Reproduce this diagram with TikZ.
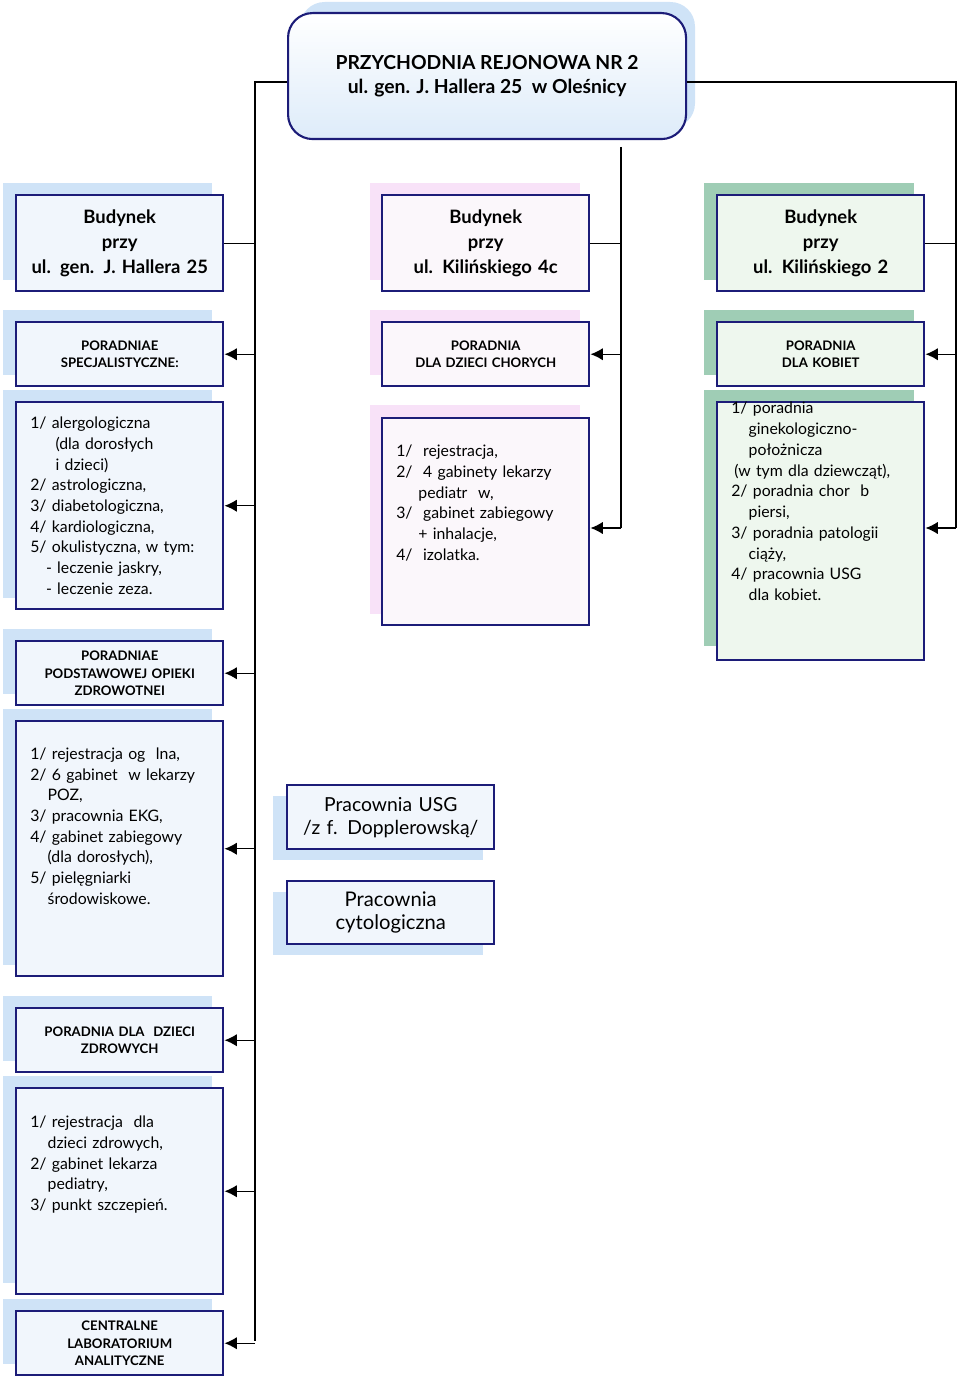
\documentclass[tikz,border=0pt]{standalone}
\usepackage{fontspec}
\setmainfont{Lato}
\usetikzlibrary{arrows.meta}
\definecolor{navy}{HTML}{1C1C78}
\definecolor{shblue}{HTML}{CFE3F7}
\definecolor{shpink}{HTML}{F8E2F8}
\definecolor{shgreen}{HTML}{9FCDB5}
\definecolor{fblue}{HTML}{F1F6FC}
\definecolor{fpink}{HTML}{FBF7FB}
\definecolor{fgreen}{HTML}{EEF7EE}
\tikzset{
  box/.style={draw=navy, line width=1.4pt, anchor=north west, inner sep=0pt, text width=207*0.02cm, align=center},
  lst/.style={box, align=left, font=\fontsize{9}{11.8}\selectfont},
  bud/.style={box, font=\bfseries\fontsize{10.5}{14}\selectfont},
  head/.style={box, font=\bfseries\fontsize{7.5}{10}\selectfont},
  line/.style={line width=0.8pt},
  arr/.style={line width=0.8pt, -{Latex[length=7pt,width=7pt]}},
}
\newcommand{\ind}{\hspace*{1.1em}}
\begin{document}
\begin{tikzpicture}[x=0.02cm,y=-0.02cm]
\useasboundingbox (0,0) rectangle (960,1382);
% shadows
\fill[shblue, rounded corners=14pt] (300,2) rectangle (695,128);
\foreach \ya/\yb in {183/280, 310/375, 390/598, 629/694, 709/965, 996/1061, 1076/1283, 1299/1364}
  \fill[shblue] (3,\ya) rectangle (212,\yb);
\foreach \ya/\yb in {183/280, 310/375, 405/614}
  \fill[shpink] (370,\ya) rectangle (580,\yb);
\foreach \ya/\yb in {183/280, 310/375, 390/646}
  \fill[shgreen] (704,\ya) rectangle (914,\yb);
\fill[shblue] (273,796) rectangle (483,860);
\fill[shblue] (273,892) rectangle (483,955);
% top
\node[draw=navy, line width=1.2pt, rounded corners=14pt, top color=white, bottom color=shblue!70, anchor=north west,
  minimum width=398*0.02cm, minimum height=126*0.02cm, align=center, font=\bfseries\fontsize{11}{14}\selectfont]
  (top) at (287,12) {PRZYCHODNIA REJONOWA NR 2\\ul. gen. J. Hallera 25~~w Oleśnicy};
% left column
\node[bud, fill=fblue, minimum height=96*0.02cm] (budA) at (15,194) {Budynek\\przy\\ul. gen. J. Hallera 25};
\node[head, fill=fblue, minimum height=64*0.02cm] (spec) at (15,321) {PORADNIAE\\SPECJALISTYCZNE:};
\node[lst, fill=fblue, minimum height=207*0.02cm] (specL) at (15,401) {\hspace*{8pt}\parbox{105pt}{1/ alergologiczna\\\hspace*{1.6em}(dla dorosłych\\\hspace*{1.6em}i dzieci)\\2/ astrologiczna,\\3/ diabetologiczna,\\4/ kardiologiczna,\\5/ okulistyczna, w tym:\\\hspace*{1em}- leczenie jaskry,\\\hspace*{1em}- leczenie zeza.}};
\node[head, fill=fblue, minimum height=64*0.02cm] (poz) at (15,640) {PORADNIAE\\PODSTAWOWEJ OPIEKI\\ZDROWOTNEI};
\node[lst, fill=fblue, minimum height=255*0.02cm] (pozL) at (15,720) {\hspace*{8pt}\parbox{105pt}{1/ rejestracja og~~lna,\\2/ 6 gabinet~~w lekarzy\\\ind POZ,\\3/ pracownia EKG,\\4/ gabinet zabiegowy\\\ind(dla dorosłych),\\5/ pielęgniarki\\\ind środowiskowe.\\[14pt]}};
\node[head, fill=fblue, minimum height=64*0.02cm] (zdr) at (15,1007) {PORADNIA DLA~~DZIECI\\ZDROWYCH};
\node[lst, fill=fblue, minimum height=206*0.02cm] (zdrL) at (15,1087) {\hspace*{8pt}\parbox{105pt}{1/ rejestracja~~dla\\\ind dzieci zdrowych,\\2/ gabinet lekarza\\\ind pediatry,\\3/ punkt szczepień.\\[20pt]}};
\node[head, fill=fblue, minimum height=64*0.02cm] (lab) at (15,1310) {CENTRALNE\\LABORATORIUM\\ANALITYCZNE};
% middle column
\node[bud, fill=fpink, minimum height=96*0.02cm] (budB) at (381,194) {Budynek\\przy\\ul. Kilińskiego 4c};
\node[head, fill=fpink, minimum height=64*0.02cm] (chor) at (381,321) {PORADNIA\\DLA DZIECI CHORYCH};
\node[lst, fill=fpink, minimum height=207*0.02cm] (chorL) at (381,417) {\hspace*{8pt}\parbox{105pt}{1/~~rejestracja,\\2/~~4 gabinety lekarzy\\\hspace*{1.4em}pediatr~~w,\\3/~~gabinet zabiegowy\\\hspace*{1.4em}+ inhalacje,\\4/~~izolatka.\\[10pt]}};
% right column
\node[bud, fill=fgreen, minimum height=96*0.02cm] (budC) at (716,194) {Budynek\\przy\\ul. Kilińskiego 2};
\node[head, fill=fgreen, minimum height=64*0.02cm] (kob) at (716,321) {PORADNIA\\DLA KOBIET};
\node[lst, fill=fgreen, minimum height=255*0.02cm] (kobL) at (716,401) {\hspace*{8pt}\parbox{105pt}{1/ poradnia\\\ind ginekologiczno-\\\ind położnicza\\\hspace*{0.2em}(w tym dla dziewcząt),\\2/ poradnia chor~~b\\\ind piersi,\\3/ poradnia patologii\\\ind ciąży,\\4/ pracownia USG\\\ind dla kobiet.\\[22pt]}};
% separate rooms
\node[box, fill=fblue, minimum height=64*0.02cm, font=\fontsize{11}{13}\selectfont] (usg) at (286,784) {Pracownia USG\\/z f. Dopplerowską/};
\node[box, fill=fblue, minimum height=63*0.02cm, font=\fontsize{11.5}{13}\selectfont] (cyt) at (286,880) {Pracownia\\cytologiczna};
% trunks
\coordinate (tL) at (255,82);
\coordinate (tLe) at (255,1341);
\coordinate (tR) at (956,82);
\coordinate (tRe) at (956,528);
\coordinate (tM) at (621,147);
\coordinate (tMe) at (621,528);
\draw[line] (top.west |- tL) -- (tL) -- (tLe);
\draw[line] (top.east |- tR) -- (tR) -- (tRe);
\draw[line] (tM) -- (tMe);
\foreach \b in {budA} \draw[line] (\b.east) -- (tL |- \b.east);
\foreach \b in {budB} \draw[line] (\b.east) -- (tM |- \b.east);
\foreach \b in {budC} \draw[line] (\b.east) -- (tR |- \b.east);
\foreach \b in {spec, specL, poz, pozL, zdr, zdrL, lab} \draw[arr] (tL |- \b.east) -- (\b.east);
\draw[arr] (tM |- chor.east) -- (chor.east);
\draw[arr] (tMe) -- (chorL.east |- tMe);
\draw[arr] (tR |- kob.east) -- (kob.east);
\draw[arr] (tRe) -- (kobL.east |- tRe);
\end{tikzpicture}
\end{document}
